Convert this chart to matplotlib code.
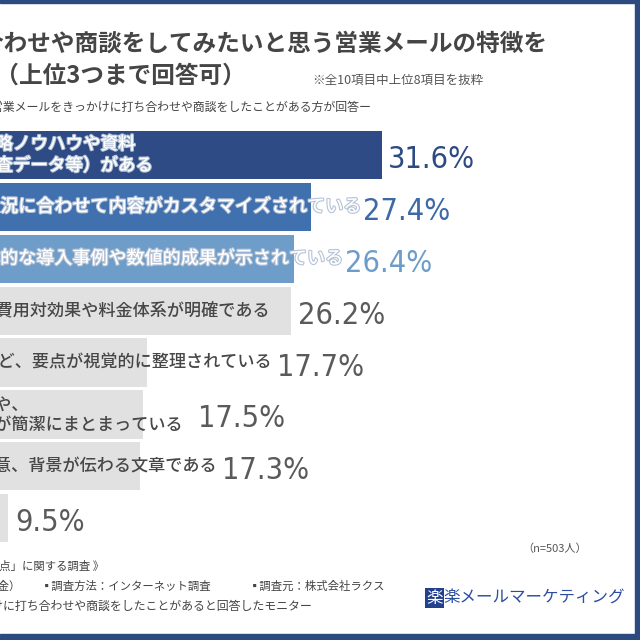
import matplotlib
matplotlib.use("Agg")
import matplotlib.pyplot as plt
import matplotlib.patheffects as pe
from matplotlib import transforms
from matplotlib.patches import Rectangle

plt.rcParams['font.family'] = ['Noto Sans CJK JP', 'DejaVu Sans']

# ---------------- data ----------------
categories = [
    "業界の戦略ノウハウや資料\n（市場調査データ等）がある",
    "自社の状況に合わせて内容がカスタマイズされている",
    "具体的な導入事例や数値的成果が示されている",
    "サービスの費用対効果や料金体系が明確である",
    "図解や表など、要点が視覚的に整理されている",
    "結論や、\n内容が簡潔にまとまっている",
    "送り手の熱意や誠意、背景が伝わる文章である",
    "件名だけで内容が把握できる",
]
values = [31.6, 27.4, 26.4, 26.2, 17.7, 17.5, 17.3, 9.5]

bar_colors = ['#2e4b85', '#4170af', '#6f9dca'] + ['#e1e1e1'] * 5
value_colors = ['#2e4a82', '#3d69a7', '#6e9cc9'] + ['#5a5a5a'] * 5

# layout (pixels in the 640x640 picture, left part of the chart is cropped off)
label_end_px = [153, 360, 342, 271, 272, 183, 217, -10]
value_x_px = [388, 363, 345, 298, 277, 198, 222, 15]

W = H = 640
NAVY = '#2d4a80'

def fx(px):
    return px / W

def fy(py):
    return 1 - py / H

fig = plt.figure(figsize=(6.4, 6.4), dpi=100)
fig.patch.set_facecolor('white')

# ---------------- bars ----------------
ZERO_PX = -152.8
PX_PER_PCT = 16.92
XMAX = 47
TOP_PX = 129.0
PITCH = 51.9
n = len(values)

ax = fig.add_axes([fx(ZERO_PX), fy(TOP_PX + PITCH * n), XMAX * PX_PER_PCT / W, PITCH * n / H])
ax.set_xlim(0, XMAX)
ax.set_ylim(n - 0.5, -0.5)
ax.axis('off')
ax.barh(range(n), values, height=0.93, color=bar_colors)

blend = transforms.blended_transform_factory(fig.transFigure, ax.transData)
value_tr = transforms.offset_copy(blend, fig=fig, y=-13, units='dots')

for i, (cat, v) in enumerate(zip(categories, values)):
    if i < 3:
        ax.text(fx(label_end_px[i]), i, cat, transform=blend, ha='right', va='center',
                multialignment='left', fontsize=12.6 if i == 0 else 13, color='white',
                fontweight='medium', linespacing=1.25,
                path_effects=[pe.withStroke(linewidth=1.6, foreground='#b5c3d6')])
    else:
        ax.text(fx(label_end_px[i]), i, cat, transform=blend, ha='right', va='center',
                multialignment='left', fontsize=12.3, color='#474747',
                fontweight='medium', linespacing=1.15)
    ax.text(fx(value_x_px[i]), i, f"{v}%", transform=value_tr, ha='left', va='baseline',
            fontsize=22, color=value_colors[i], family='DejaVu Sans', fontstretch='condensed')

# ---------------- titles ----------------
fig.text(fx(548), fy(43), "Q.打ち合わせや商談をしてみたいと思う営業メールの特徴を",
         ha='right', va='center', fontsize=17, fontweight='bold', color='#454545')
fig.text(fx(246), fy(76), "教えてください（上位3つまで回答可）",
         ha='right', va='center', fontsize=17, fontweight='bold', color='#454545')
fig.text(fx(312), fy(80), "※全10項目中上位8項目を抜粋",
         ha='left', va='center', fontsize=9, color='#555555')
fig.text(fx(372), fy(107), "ー営業メールをきっかけに打ち合わせや商談をしたことがある方が回答ー",
         ha='right', va='center', fontsize=8.6, color='#454545')

# ---------------- footer ----------------
fig.text(fx(522), fy(549), "（n=503人）", ha='left', va='center', fontsize=8, color='#555555')
fig.text(fx(104), fy(566), "《「営業メールの好印象・改善点」に関する調査 》",
         ha='right', va='center', fontsize=8.2, color='#444444')
fig.text(fx(21), fy(586), "▪調査期間：2025年3月7日（金）",
         ha='right', va='center', fontsize=8.2, color='#444444')
fig.text(fx(41), fy(586), "▪調査方法：インターネット調査",
         ha='left', va='center', fontsize=8.2, color='#444444')
fig.text(fx(249), fy(586), "▪調査元：株式会社ラクス",
         ha='left', va='center', fontsize=8.2, color='#444444')
fig.text(fx(312), fy(606), "▪調査対象：営業メールをきっかけに打ち合わせや商談をしたことがあると回答したモニター",
         ha='right', va='center', fontsize=8.6, color='#444444')

# logo
fig.text(fx(426), fy(598), "楽", ha='left', va='center', fontsize=11.9, color='white',
         bbox=dict(boxstyle='square,pad=0.08', fc='#23408e', ec='none'))
fig.text(fx(443), fy(598), "楽メールマーケティング", ha='left', va='center',
         fontsize=11.9, color='#2b4ea0')

# ---------------- frame ----------------
fig.add_artist(Rectangle((0, fy(3)), 1, 3 / H, transform=fig.transFigure, color=NAVY, zorder=10))
fig.add_artist(Rectangle((fx(635), 0), 5 / W, 1, transform=fig.transFigure, color=NAVY, zorder=10))
fig.add_artist(Rectangle((0, 0), 1, 6 / H, transform=fig.transFigure, color=NAVY, zorder=10))

fig.savefig("out.png", dpi=100)
